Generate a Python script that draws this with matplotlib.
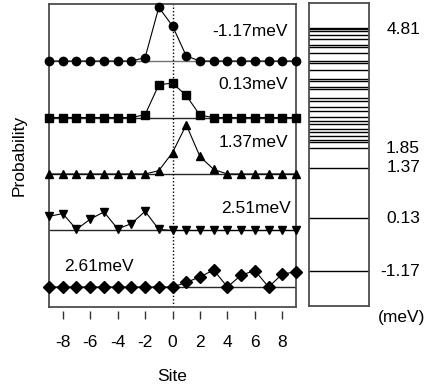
import matplotlib
matplotlib.use('Agg')
from matplotlib import pyplot as plt
import numpy as np

plt.rc('font', family=['Liberation Sans', 'DejaVu Sans'])
plt.rc('axes', unicode_minus=False)

sites = np.arange(-9, 10)

# probability per site, one list per eigenstate (top to bottom)
p_m117 = [0, 0, 0, 0, 0, 0, 0, 0.06, 0.95, 0.62, 0.09, 0, 0, 0, 0, 0, 0, 0, 0]
p_013 = [0, 0, 0, 0, 0, 0, 0, 0.05, 0.58, 0.61, 0.39, 0.04, 0, 0, 0, 0, 0, 0, 0]
p_137 = [0, 0, 0, 0, 0, 0, 0, 0, 0.06, 0.38, 0.87, 0.31, 0.08, 0, 0, 0, 0, 0, 0]
p_251 = [0.25, 0.30, 0.02, 0.20, 0.33, 0.03, 0.12, 0.34, 0.02, 0, 0, 0, 0, 0, 0, 0, 0, 0, 0]
p_261 = [0, 0, 0, 0, 0, 0, 0, 0, 0, 0, 0.08, 0.18, 0.30, 0.0, 0.21, 0.29, 0.0, 0.23, 0.27]

labels = ['-1.17meV', '0.13meV', '1.37meV', '2.51meV', '2.61meV']
markers = ['o', 's', '^', 'v', 'D']
offsets = [4, 3, 2, 1, 0]

# energy levels (meV)
levels = [-1.17, 0.13, 1.37, 1.85, 1.99, 2.06, 2.15, 2.24, 2.31, 2.43, 2.51, 2.61,
          2.76, 2.85, 3.01, 3.09, 3.30, 3.34, 3.50, 3.54, 3.77, 3.95, 3.99,
          4.18, 4.32, 4.38, 4.53, 4.63, 4.72, 4.77, 4.81]
level_labels = ['4.81', '1.85', '1.37', '0.13', '-1.17']
level_label_y = [4.75, 1.85, 1.37, 0.13, -1.17]

fs = 12.5
fig = plt.figure(figsize=(4.27, 3.86), dpi=100)
ax = fig.add_axes([0.1148, 0.2047, 0.5785, 0.785])
ax2 = fig.add_axes([0.7237, 0.208, 0.1405, 0.784])

data = [p_m117, p_013, p_137, p_251, p_261]
msize = [6, 5.5, 6, 6, 6]
for p, m, off, ms in zip(data, markers, offsets, msize):
    lc = '0.45' if off == 4 else '0.15'
    ax.axhline(off, color=lc, lw=1.0, zorder=1)
    ax.plot(sites, np.array(p) + off, '-', color='k', lw=0.8, marker=m,
            ms=ms, mfc='k', mec='k', clip_on=False, zorder=3)

ax.axvline(0, color='k', lw=1.0, ls=(0, (1, 1.5)), zorder=2)

ax.text(8.4, 4.53, labels[0], ha='right', va='center', fontsize=fs)
ax.text(8.4, 3.58, labels[1], ha='right', va='center', fontsize=fs)
ax.text(8.4, 2.55, labels[2], ha='right', va='center', fontsize=fs)
ax.text(8.6, 1.39, labels[3], ha='right', va='center', fontsize=fs)
ax.text(-7.9, 0.37, labels[4], ha='left', va='center', fontsize=fs)

ax.set_xlim(-9, 9)
ax.set_ylim(-0.354, 5.01)
ax.set_xticks(np.arange(-8, 9, 2))
ax.set_yticks([])
ax.tick_params(axis='x', direction='out', length=6, width=1.0, color='0.2',
               labelsize=fs, pad=11)
ax.spines['bottom'].set_position(('outward', 3))
ax.spines['bottom'].set_visible(False)
ax.plot([0, 1], [0, 0], transform=ax.transAxes, color='0.3', lw=1.3,
        clip_on=False, zorder=4)
for s in ['left', 'right', 'top']:
    ax.spines[s].set_color('0.3')
    ax.spines[s].set_linewidth(1.3)
ax.set_xlabel('Site', fontsize=fs, labelpad=14)
ax.set_ylabel('Probability', fontsize=fs, labelpad=16)

for e in levels:
    ax2.axhline(e, color='k', lw=1.0)
ax2.set_ylim(-2.02, 5.41)
ax2.set_xticks([])
ax2.set_yticks([])
for s in ax2.spines.values():
    s.set_color('0.3')
    s.set_linewidth(1.3)
for t, y in zip(level_labels, level_label_y):
    ax2.text(1.85, y, t, transform=ax2.get_yaxis_transform(), ha='right',
             va='center', fontsize=fs)
ax2.text(1.55, -2.12, '(meV)', transform=ax2.get_yaxis_transform(),
         ha='center', va='top', fontsize=fs, clip_on=False)

fig.savefig('out.png', dpi=100)
